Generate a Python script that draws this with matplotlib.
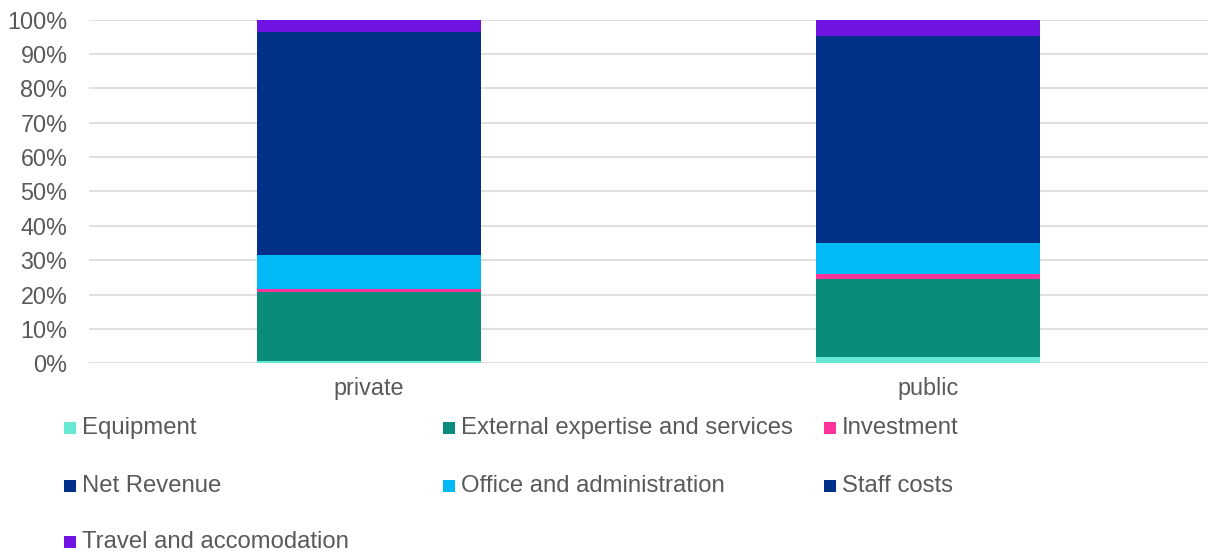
import numpy as np
import matplotlib.pyplot as plt
from matplotlib.patches import Rectangle

plt.rcParams['font.family'] = ['Liberation Sans', 'DejaVu Sans']

# stacked shares per sector (fraction of 1)
sectors = ["private", "public"]
series = ["Equipment", "External expertise and services", "Investment",
          "Net Revenue", "Office and administration", "Staff costs",
          "Travel and accomodation"]
equipment = [0.007, 0.018]
external = [0.200, 0.227]
investment = [0.009, 0.016]
net_revenue = [0.0, 0.0]
office = [0.099, 0.089]
staff = [0.650, 0.603]
travel = [0.035, 0.047]

colors = ["#66E8D5", "#0B8C7A", "#FF3399", "#003087",
          "#00B9F5", "#003087", "#7014E3"]
values = [equipment, external, investment, net_revenue, office, staff, travel]

text_col = "#595959"
fs = 16.8
legend_fs = 17.2

fig = plt.figure(figsize=(12.08, 5.54), dpi=100)
ax = fig.add_axes([89 / 1208, 190.7 / 554, 1119 / 1208, 343.6 / 554])

x = np.arange(len(sectors))
bottom = np.zeros(len(sectors))
for vals, col in zip(values, colors):
    vals = np.array(vals)
    ax.bar(x, vals, width=0.4, bottom=bottom, color=col, zorder=3)
    bottom += vals

ax.set_xlim(-0.5, 1.5)
ax.set_ylim(0, 1)
ax.set_yticks(np.linspace(0, 1, 11))
ax.set_yticklabels([f"{int(round(v * 100))}%" for v in np.linspace(0, 1, 11)])
ax.set_xticks(x)
ax.set_xticklabels(sectors)
ax.tick_params(axis="both", length=0, labelsize=fs, labelcolor=text_col)
ax.tick_params(axis="y", pad=15.5)
ax.tick_params(axis="x", pad=10)
ax.grid(axis="y", color="#D9D9D9", linewidth=1.2, zorder=0)
for s in ax.spines.values():
    s.set_visible(False)

# legend laid out in three columns, filled row by row
col_x = [64, 443, 824]
row_y = [428, 486, 542]
for i, (name, col) in enumerate(zip(series, colors)):
    cx = col_x[i % 3]
    cy = row_y[i // 3]
    fig.patches.append(Rectangle((cx / 1208, (554 - cy - 6) / 554),
                                 12 / 1208, 12 / 554, transform=fig.transFigure,
                                 facecolor=col, edgecolor="none"))
    fig.text((cx + 18) / 1208, (554 - cy) / 554, name, fontsize=legend_fs,
             color=text_col, va="center", ha="left")

fig.savefig("out.png", dpi=100)
